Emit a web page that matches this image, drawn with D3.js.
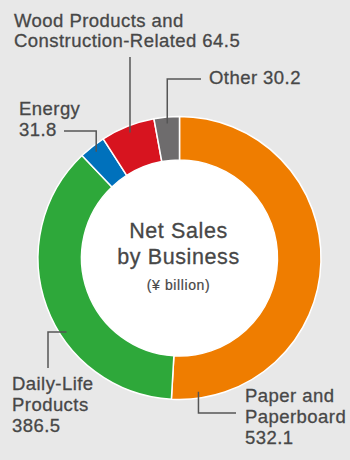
<!DOCTYPE html>
<html>
<head>
<meta charset="utf-8">
<script src="https://cdn.jsdelivr.net/npm/d3@7"></script>
<style>
  html, body { margin: 0; padding: 0; background: #e8e8e8; }
  svg { display: block; }
  text { font-family: "Liberation Sans", Arial, Helvetica, sans-serif; fill: #474747; stroke: #474747; stroke-width: 0.3px; }
</style>
</head>
<body>
<svg id="chart" width="350" height="460"></svg>
<script>
// Net sales by business segment (¥ billion), clockwise from 12 o'clock
const categories = ["Paper and Paperboard", "Daily-Life Products", "Energy", "Wood Products and Construction-Related", "Other"];
const values = [532.1, 386.5, 31.8, 64.5, 30.2];
const colors = ["#ef7d00", "#2ea83a", "#0071bc", "#d7141f", "#6e6c6d"];

// Label text per segment; {v} is replaced by the segment value
const labelLines = [
  ["Paper and", "Paperboard", "{v}"],
  ["Daily-Life", "Products", "{v}"],
  ["Energy", "{v}"],
  ["Wood Products and", "Construction-Related {v}"],
  ["Other {v}"]
];

const W = 350, H = 460;
const cx = 179.5, cy = 258;
const rOuter = 141.5, rInner = 98, rAnchor = 135;

const svg = d3.select("#chart");
svg.append("rect").attr("width", W).attr("height", H).attr("fill", "#e8e8e8");

const pie = d3.pie().sort(null).value(d => d).startAngle(0).endAngle(2 * Math.PI);
const arcs = pie(values);
const arc = d3.arc().innerRadius(rInner).outerRadius(rOuter);

const g = svg.append("g").attr("transform", `translate(${cx},${cy})`);

// inner disc
g.append("circle").attr("r", rInner).attr("fill", "#ffffff");

g.selectAll("path.slice")
  .data(arcs)
  .join("path")
  .attr("class", "slice")
  .attr("d", arc)
  .attr("fill", (d, i) => colors[i])
  .attr("stroke", "#ffffff")
  .attr("stroke-width", 1.5)
  .attr("stroke-linejoin", "round");

// Centre title
const title = svg.append("g").attr("text-anchor", "middle");
title.append("text").attr("x", cx - 1).attr("y", 237.5)
  .style("font-size", "21.5px").style("letter-spacing", "0.6px").text("Net Sales");
title.append("text").attr("x", cx - 1).attr("y", 263.5)
  .style("font-size", "21.5px").style("letter-spacing", "0.6px").text("by Business");
title.append("text").attr("x", cx - 1).attr("y", 289.5)
  .style("font-size", "14px").style("letter-spacing", "0.6px").style("stroke-width", "0.2px").text("(¥ billion)");

// Label layout: text position, line height, leader anchor (fraction along slice) and elbow points
const labelLayout = [
  { x: 245, y: 401.5, lh: 21, f: 0.938, pts: [["a", "a"], ["a", 413], [236, 413]] },
  { x: 12,  y: 390,   lh: 21, f: 0.402, pts: [["a", "a"], [48, "a"], [48, 368]] },
  { x: 19,  y: 115,   lh: 21, f: 0.5,   pts: [["a", "a"], ["a", 131], [64, 131]] },
  { x: 14,  y: 27,    lh: 20, f: 0.5,   pts: [["a", "a"], ["a", 57]] },
  { x: 209, y: 84,    lh: 21, f: 0.5,   pts: [["a", "a"], ["a", 79], [201, 79]] }
];

const line = d3.line();
arcs.forEach((d, i) => {
  const L = labelLayout[i];
  const a = d.startAngle + L.f * (d.endAngle - d.startAngle);
  const ax = cx + rAnchor * Math.sin(a);
  const ay = cy - rAnchor * Math.cos(a);
  const pts = L.pts.map(([px, py]) => [px === "a" ? ax : px, py === "a" ? ay : py]);
  svg.append("path")
    .attr("d", line(pts))
    .attr("fill", "none")
    .attr("stroke", "#555555")
    .attr("stroke-width", 1.5);

  const t = svg.append("text").style("font-size", "18.5px").style("letter-spacing", "0.45px");
  labelLines[i].forEach((s, k) => {
    t.append("tspan")
      .attr("x", L.x)
      .attr("y", L.y + k * L.lh)
      .text(s.replace("{v}", values[i].toFixed(1)));
  });
});
</script>
</body>
</html>
